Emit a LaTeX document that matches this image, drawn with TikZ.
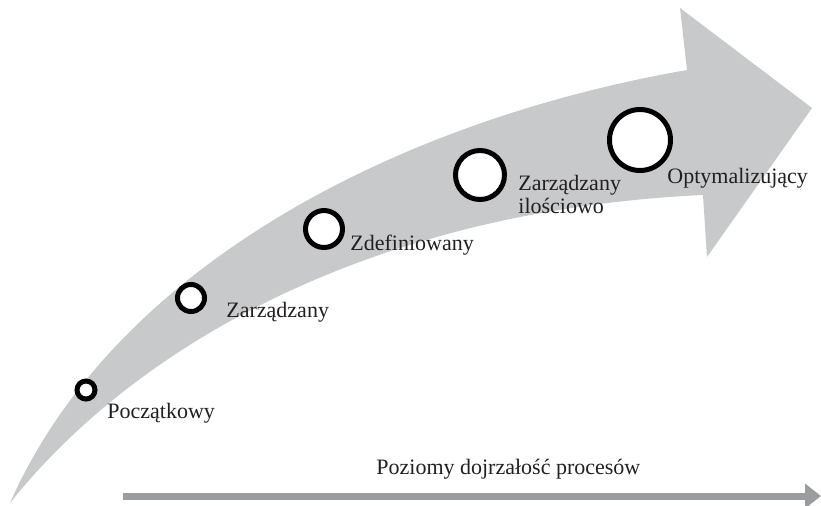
\documentclass[tikz,border=0pt]{standalone}
\usepackage{fontspec}
\setmainfont{Liberation Serif}
\usetikzlibrary{arrows.meta}
\definecolor{stageband}{HTML}{C8C9CB}
\definecolor{stageaxis}{HTML}{9A9C9F}
\definecolor{stageink}{HTML}{231F20}
\tikzset{
  stagelabel/.style={font=\fontsize{11}{10}\selectfont, text=stageink,
    inner sep=0pt, anchor=base west, align=left},
  stagering/.style={circle, draw=black, fill=white, line width=2.5pt,
    inner sep=0pt},
  axisflow/.style={-{Triangle[length=8pt,width=12pt]}, draw=stageaxis,
    line width=3.5pt}
}

\begin{document}
\begin{tikzpicture}[x=.5pt,y=-.5pt]
  \useasboundingbox (0,0) rectangle (821,505);
  % Curved band for the maturity levels, rings grow along it.
  \fill[stageband] (10,503) .. controls (115,265) and (400,120) .. (687,70)
    -- (680,8) -- (812,108) -- (707,257) -- (703,195)
    .. controls (380,210) and (140,340) .. (10,503) -- cycle;

  \node[stagering, minimum size=9pt] (initial) at (86,390) {};
  \node[stagering, minimum size=13.5pt] (managed) at (191,298) {};
  \node[stagering, minimum size=18.5pt] (defined) at (324,229) {};
  \node[stagering, minimum size=24.5pt] (quantitative) at (480,175) {};
  \node[stagering, minimum size=30.5pt] (optimizing) at (640,140) {};

  \node[stagelabel] (initiallabel) at (107,418) {Początkowy};
  \node[stagelabel] (managedlabel) at (226,317) {Zarządzany};
  \node[stagelabel] (definedlabel) at (350,250) {Zdefiniowany};
  \node[stagelabel] (quantitativelabel) at (518,213) {Zarządzany\\ilościowo};
  \node[stagelabel] (optimizinglabel) at (667,183) {Optymalizujący};

  \coordinate (axisstart) at (123,496);
  \coordinate (axisend) at (821,496);
  \draw[axisflow] (axisstart) -- (axisend);
  \node[stagelabel] (axislabel) at (376,474) {Poziomy dojrzałość procesów};
\end{tikzpicture}
\end{document}
